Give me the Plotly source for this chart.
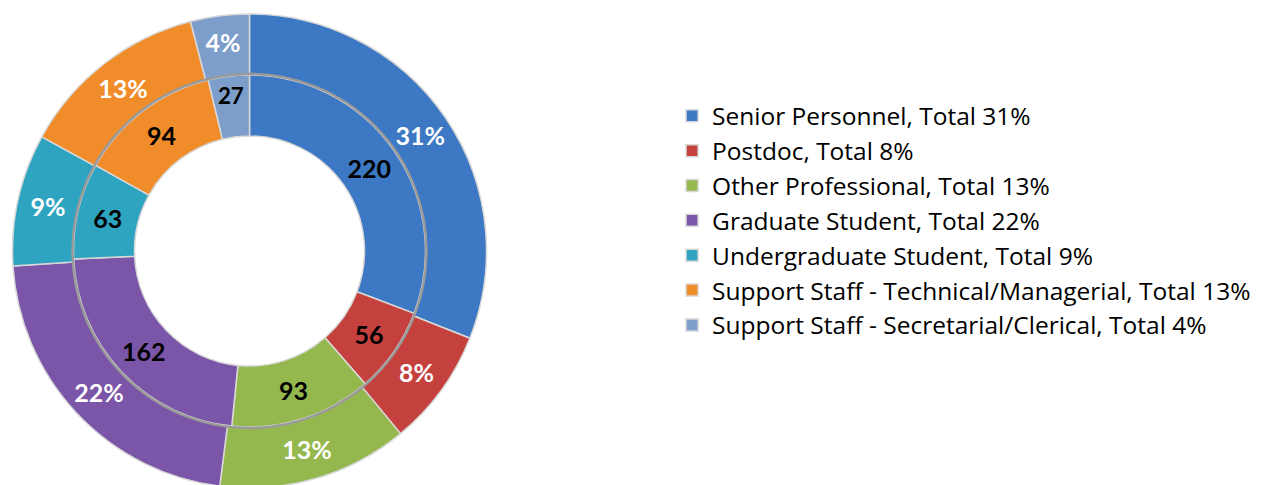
import plotly.graph_objects as go

# Categories and values
categories = [
    "Senior Personnel",
    "Postdoc",
    "Other Professional",
    "Graduate Student",
    "Undergraduate Student",
    "Support Staff - Technical/Managerial",
    "Support Staff - Secretarial/Clerical",
]
counts = [220, 56, 93, 162, 63, 94, 27]          # inner ring
total_pct = [31, 8, 13, 22, 9, 13, 4]             # outer ring
colors = ["#3C78C3", "#C4413D", "#95B84E", "#7B55A7", "#2EA4C0", "#F08C2A", "#7D9DCB"]

labels = [f"{c}, Total {p}%" for c, p in zip(categories, total_pct)]

W, H = 1282, 485
off = 8  # page body margin
cx, cy = 249.5 - off, 251 - off
r_out, r_mid, r_hole = 237, 176, 115


def dom(r):
    return dict(x=[(cx - r) / W, (cx + r) / W],
                y=[(H - cy - r) / H, (H - cy + r) / H])


fig = go.Figure()

# Outer ring: total percentages
fig.add_trace(go.Pie(
    labels=labels,
    values=total_pct,
    text=[f"{p}%" for p in total_pct],
    texttemplate="<b>%{text}</b>",
    textposition="inside",
    insidetextorientation="horizontal",
    textfont=dict(family="Lato", size=25, color="white"),
    marker=dict(colors=colors, line=dict(color="#d8d8d8", width=1.5)),
    hole=r_mid / r_out,
    sort=False,
    direction="clockwise",
    rotation=0,
    domain=dom(r_out),
    showlegend=True,
))

# Inner ring: counts
fig.add_trace(go.Pie(
    labels=labels,
    values=counts,
    text=[str(v) for v in counts],
    texttemplate="<b>%{text}</b>",
    textposition="inside",
    insidetextorientation="horizontal",
    textfont=dict(family="Lato", size=25, color="black"),
    marker=dict(colors=colors, line=dict(color="#d8d8d8", width=1.5)),
    hole=r_hole / r_mid,
    sort=False,
    direction="clockwise",
    rotation=0,
    domain=dom(r_mid),
    showlegend=False,
))

# grey line between the two rings
fig.add_shape(type="circle", xref="paper", yref="paper",
              x0=(cx - r_mid - 1) / W, x1=(cx + r_mid + 1) / W,
              y0=(H - cy - r_mid - 1) / H, y1=(H - cy + r_mid + 1) / H,
              line=dict(color="#9a9a9a", width=2.5))

fig.update_layout(
    width=W,
    height=H,
    margin=dict(l=0, r=0, t=0, b=0),
    paper_bgcolor="white",
    plot_bgcolor="white",
    legend=dict(
        x=0.518, y=0.824, xanchor="left", yanchor="top",
        font=dict(family="Open Sans", size=24.5, color="black"),
        traceorder="normal",
    ),
)

fig.write_html("out.html")
